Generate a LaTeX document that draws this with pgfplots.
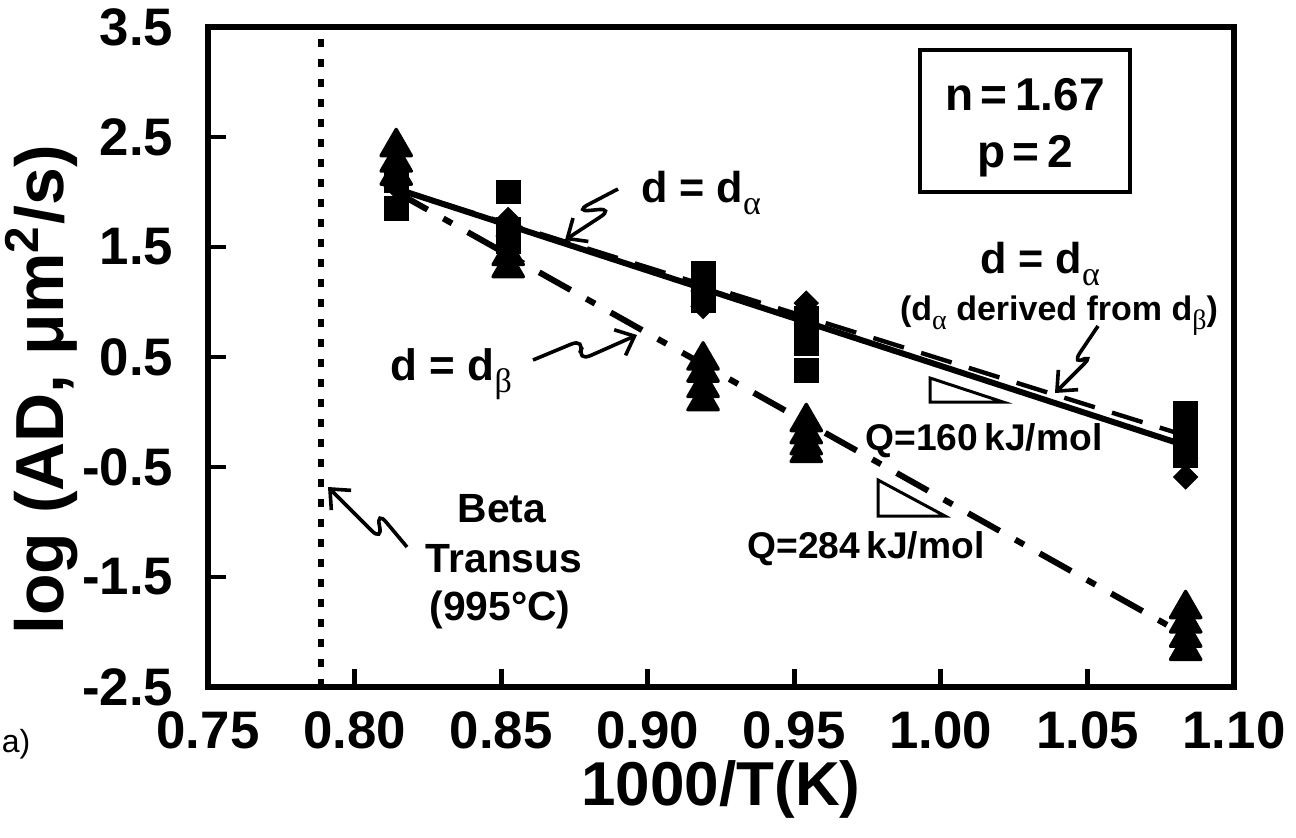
\documentclass[border=0pt]{standalone}
\usepackage{fontspec}
\setmainfont{Liberation Sans}
\newfontfamily\gr{Liberation Serif}
\usepackage{pgfplots}
\pgfplotsset{compat=1.18}
\usetikzlibrary{arrows.meta}

\newcommand\fs[1]{\fontsize{#1}{#1}\selectfont\bfseries}
% subscript greek letter: size, drop, letter
\newcommand\sg[3]{\raisebox{-#2}{\fontsize{#1}{#1}\selectfont\gr\mdseries #3}}

\begin{document}
\begin{tikzpicture}
\begin{axis}[
    at={(52pt,-171.75pt)}, anchor=south west,
    scale only axis, width=256.5pt, height=165pt,
    xmin=0.75, xmax=1.10, ymin=-2.5, ymax=3.5,
    xtick={0.75,0.80,0.85,0.90,0.95,1.00,1.05,1.10},
    xticklabels={0.75,0.80,0.85,0.90,0.95,1.00,1.05,1.10},
    ytick={-2.5,-1.5,-0.5,0.5,1.5,2.5,3.5},
    yticklabels={-2.5,-1.5,-0.5,0.5,1.5,2.5,3.5},
    xtick pos=bottom, ytick pos=left,
    tick align=inside,
    major tick length=4.5pt,
    tick style={line width=1.2pt, black},
    axis line style={line width=1.5pt},
    ticklabel style={font=\fs{13.2}, inner sep=0pt},
    xticklabel style={yshift=-6pt},
    yticklabel style={xshift=-8.5pt},
    xlabel={1000/T(K)},
    xlabel style={font=\fs{15.5}, at={(axis description cs:0.5,-0.179)}, anchor=base},
    ylabel={log (AD, μm\textsuperscript{2}/s)},
    ylabel style={font=\fs{17}, at={(axis description cs:-0.162,0.45)}, anchor=center},
    clip=false,
]
% d = d_alpha (squares)
\addplot[only marks, mark=square*, mark size=2.9pt, black] coordinates {
  (0.8142,1.85) (0.8142,2.10)
  (0.8524,2.00) (0.8524,1.66) (0.8524,1.55)
  (0.9189,1.26) (0.9189,1.13) (0.9189,1.01)
  (0.9541,0.85) (0.9541,0.72) (0.9541,0.62) (0.9541,0.38)
  (1.0835,-0.01) (1.0835,-0.14) (1.0835,-0.27) (1.0835,-0.40)
};
% d_alpha derived from d_beta (diamonds)
\addplot[only marks, mark=square*, mark size=2.05pt, mark options={rotate=45}, black] coordinates {
  (0.8142,2.05) (0.8142,2.20)
  (0.8524,1.75) (0.8524,1.60)
  (0.9189,0.96) (0.9189,1.10)
  (0.9541,0.99) (0.9541,0.80)
  (1.0835,-0.59) (1.0835,-0.42)
};
% d = d_beta (triangles)
\addplot[only marks, mark=triangle*, mark size=4.4pt, mark options={line join=round, line width=0.8pt}, black] coordinates {
  (0.8142,2.41) (0.8142,2.27) (0.8142,2.15)
  (0.8524,1.42) (0.8524,1.31)
  (0.9189,0.47) (0.9189,0.36) (0.9189,0.22) (0.9189,0.10)
  (0.9541,-0.09) (0.9541,-0.20) (0.9541,-0.30) (0.9541,-0.37)
  (1.0835,-1.79) (1.0835,-1.92) (1.0835,-2.05) (1.0835,-2.17)
};
% fits
\addplot[black, line width=1.5pt] coordinates {(0.8142,2.03) (1.0835,-0.305)};
\addplot[black, line width=1.1pt, dash pattern=on 8pt off 4.5pt] coordinates {(0.8142,2.03) (1.0835,-0.215)};
\addplot[black, line width=1.5pt, dash pattern=on 9pt off 4.5pt on 2.5pt off 4.5pt] coordinates {(0.8142,2.0) (1.0835,-2.03)};
% beta transus
\addplot[black, line width=1.5pt, dash pattern=on 2pt off 3pt] coordinates {(0.7885,-2.5) (0.7885,3.5)};
\end{axis}

\begin{scope}[x=0.25pt, y=-0.25pt]
  \tikzset{zz/.style={line width=0.9pt, rounded corners=4pt, -{Straight Barb[length=4pt,width=7pt]}}}
  \node[anchor=base, font=\fs{10.8}] at (701,202) {d = d\sg{8.5}{3pt}{α}};
  \draw[zz] (618,189) -- (574,212) -- (614,208) -- (565,240);
  \node[anchor=base east, font=\fs{11}] at (526,380) {d = d\sg{8.5}{3pt}{β}};
  \draw[zz] (533,360) -- (586,338) -- (576,362) -- (637,335);
  \node[anchor=base, font=\fs{10.8}] at (1040,273) {d = d\sg{8.5}{3pt}{α}};
  \node[anchor=base, font=\fs{8.5}] at (1059,320) {(d\sg{7}{2.3pt}{α} derived from d\sg{7}{2.3pt}{β})};
  \draw[zz] (1098,326) -- (1071,366) -- (1095,353) -- (1055,393);
  \draw[line width=0.75pt] (930,378) -- (930,402) -- (1003,402) -- cycle;
  \node[anchor=base, font=\fs{9.3}] at (984,450) {Q=160\,kJ/mol};
  \draw[line width=0.75pt] (878,480) -- (878,516) -- (945,516) -- cycle;
  \node[anchor=base, font=\fs{9.3}] at (866,558) {Q=284\,kJ/mol};
  \draw[line width=1.2pt] (920,50) rectangle (1130,192);
  \node[anchor=base, font=\fs{11.5}] at (1025,110) {n\,=\,1.67};
  \node[anchor=base, font=\fs{11.5}] at (1025,167) {p\,=\,2};
  \node[anchor=base, font=\fs{10.2}] at (502,522) {Beta};
  \node[anchor=base, font=\fs{10.2}] at (504,572) {Transus};
  \node[anchor=base, font=\fs{10.2}] at (500,620) {(995°C)};
  \draw[zz] (407,547) -- (376,510) -- (383,542) -- (328,487);
  \node[anchor=base west, inner sep=0pt, font=\fontsize{8}{8}\selectfont] at (1,752) {a)};
\end{scope}
\pgfresetboundingbox
\path[use as bounding box] (0,0) rectangle (324pt,-209.25pt);
\end{tikzpicture}
\end{document}
